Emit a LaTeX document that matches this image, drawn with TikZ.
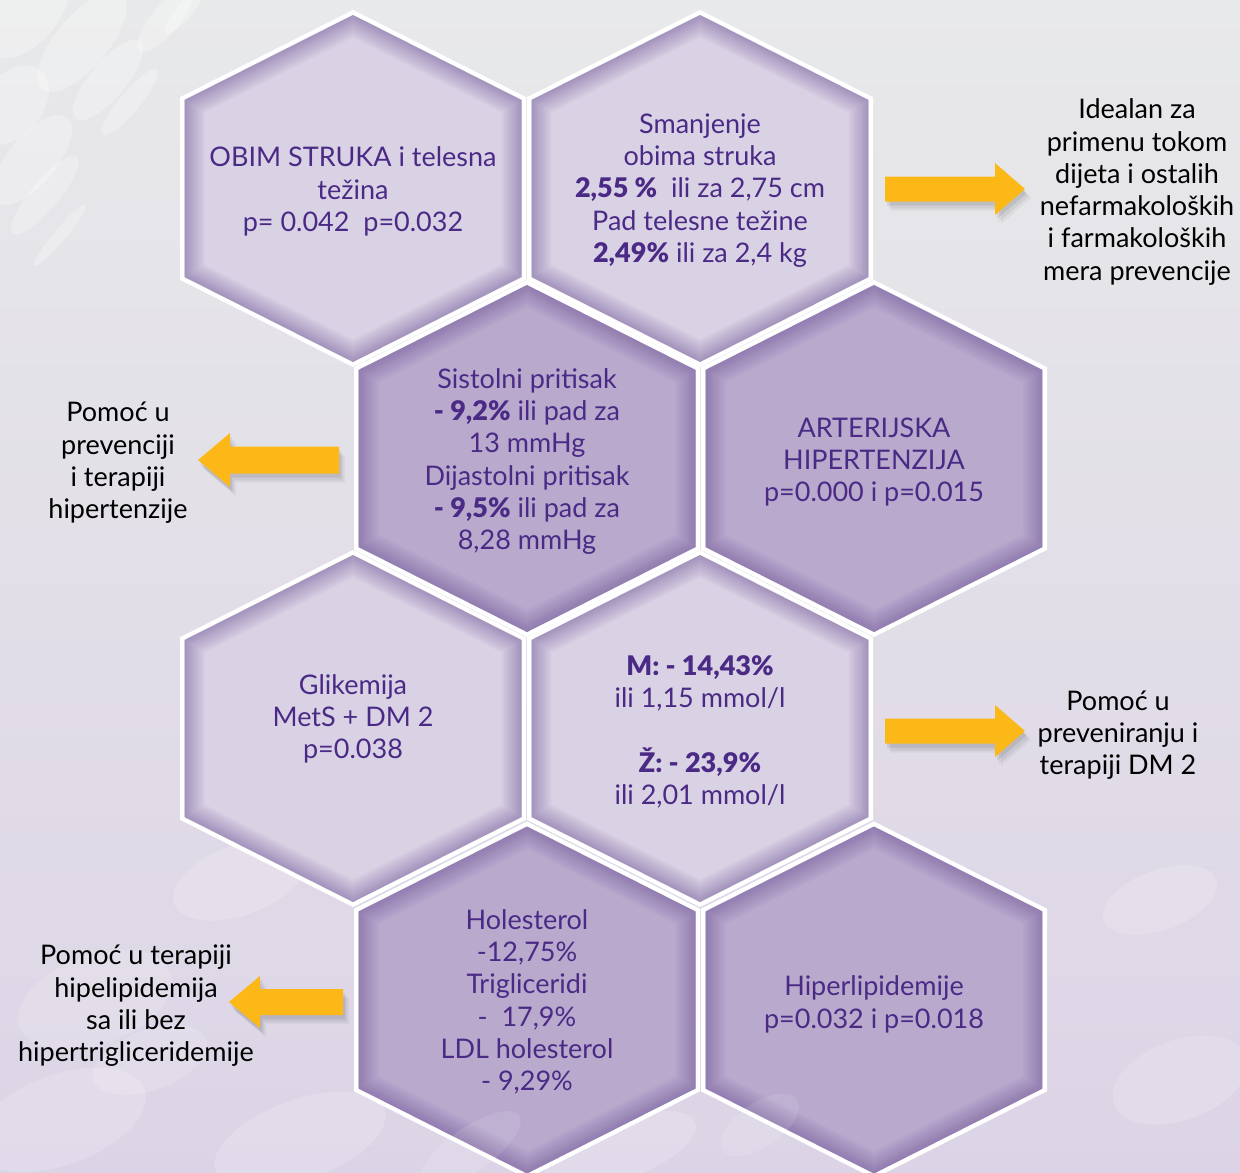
\documentclass[tikz,border=0pt]{standalone}
\usepackage{fontspec}
\IfFontExistsTF{Lato Black}{\setmainfont{Lato}[BoldFont={Lato Black}]}{\setmainfont{Lato}}
\usetikzlibrary{calc}
\definecolor{bgtop}{HTML}{E8E9EA}
\definecolor{bgmid}{HTML}{F1F1F2}
\definecolor{bgbot}{HTML}{DCD4E6}
\definecolor{hexlight}{HTML}{D9D2E5}
\definecolor{hexmed}{HTML}{B8A9CD}
\definecolor{hexedge}{HTML}{6E5396}
\definecolor{txtpurple}{HTML}{4B2A86}
\definecolor{arrowyellow}{HTML}{FBB817}
\newcommand{\hexpathat}[2]{(#1,#2) ++(0,-173.5) -- ++(168.5,85) -- ++(0,177) -- ++(-168.5,85) -- ++(-168.5,-85) -- ++(0,-177) -- cycle}
\newcommand{\hexcell}[3]{%
  \path[draw=white, line width=9pt, line join=miter] \hexpathat{#1}{#2};
  \begin{scope}
    \clip \hexpathat{#1}{#2};
    \fill[#3] \hexpathat{#1}{#2};
    \foreach \lw in {40,36,32,28,24,20,16,13,10,7,4}
      \draw[hexedge, opacity=0.05, line width=\lw pt] \hexpathat{#1}{#2};
  \end{scope}}
\tikzset{
  hextext/.style={text=txtpurple, align=center, inner sep=0pt, font=\fontsize{27}{32.3}\selectfont},
  sidetext/.style={text=black, align=center, inner sep=0pt, font=\fontsize{27}{32.3}\selectfont},
  blockarrow/.style={fill=arrowyellow},
  deco/.style={fill=white, opacity=0.28},
  decolow/.style={fill=white, opacity=0.16}
}
\begin{document}
\begin{tikzpicture}[x=1pt,y=-1pt]
\useasboundingbox (0,0) rectangle (1240,1173);
% background
\shade[top color=bgtop, middle color=bgmid, bottom color=bgbot] (0,0) rectangle (1240,1173);
% decorative ellipses, top left
\foreach \ex/\ey/\ea/\eb in {28/12/55/30, 82/42/62/26, 108/80/50/18, 130/102/42/10, 12/105/45/30, 32/160/55/24, 45/195/50/14, 60/235/40/6, 165/20/40/14, 185/10/30/8}
  \fill[deco, rotate around={50:(\ex,\ey)}] (\ex,\ey) ellipse [x radius=\ea, y radius=\eb];
% decorative ellipses, bottom
\foreach \ex/\ey/\ea/\eb in {95/1000/80/45, 240/880/70/35, 60/1120/90/45, 300/1140/90/40, 150/1060/60/30, 1180/1080/70/40, 1160/900/60/30, 620/1150/80/30}
  \fill[decolow, rotate around={20:(\ex,\ey)}] (\ex,\ey) ellipse [x radius=\ea, y radius=\eb];
% hexagons
\hexcell{353}{188.5}{hexlight}
\hexcell{700}{188.5}{hexlight}
\hexcell{527}{458.5}{hexmed}
\hexcell{874}{458.5}{hexmed}
\hexcell{353}{728.5}{hexlight}
\hexcell{700}{728.5}{hexlight}
\hexcell{527}{1000}{hexmed}
\hexcell{874}{1000}{hexmed}
% faint pattern over the lower hexagons
\foreach \ex/\ey/\ea/\eb in {760/1125/45/22, 470/1150/60/22}
  \fill[fill=white, opacity=0.10, rotate around={35:(\ex,\ey)}] (\ex,\ey) ellipse [x radius=\ea, y radius=\eb];
% hexagon texts
\node[hextext] (obim) at (353,191.5) {OBIM STRUKA i telesna\\težina\\p= 0.042\ \ p=0.032};
\node[hextext] (smanjenje) at (700,190.5) {Smanjenje\\obima struka\\\textbf{2,55 \%}\ \ ili za 2,75 cm\\Pad telesne težine\\\textbf{2,49\%} ili za 2,4 kg};
\node[hextext] (pritisak) at (527,461.5) {Sistolni pritisak\\\textbf{- 9,2\%} ili pad za\\13 mmHg\\Dijastolni pritisak\\\textbf{- 9,5\%} ili pad za\\8,28 mmHg};
\node[hextext] (arterijska) at (874,462) {ARTERIJSKA\\HIPERTENZIJA\\p=0.000 i p=0.015};
\node[hextext] (glikemija) at (353,719) {Glikemija\\MetS + DM 2\\p=0.038};
\node[hextext] (mz) at (700,732) {\textbf{M: - 14,43\%}\\ili 1,15 mmol/l\\[32.3pt]\textbf{Ž: - 23,9\%}\\ili 2,01 mmol/l};
\node[hextext] (holesterol) at (527,1002) {Holesterol\\-12,75\%\\Trigliceridi\\-\ \ 17,9\%\\LDL holesterol\\- 9,29\%};
\node[hextext] (hiperlip) at (874,1004.5) {Hiperlipidemije\\p=0.032 i p=0.018};
% side texts
\node[sidetext] (idealan) at (1137,192) {Idealan za\\primenu tokom\\dijeta i ostalih\\nefarmakoloških\\i farmakoloških\\mera prevencije};
\node[sidetext] (pomochip) at (118,463) {Pomoć u\\prevenciji\\i terapiji\\hipertenzije};
\node[sidetext] (pomocdm) at (1118,735) {Pomoć u\\preveniranju i\\terapiji DM 2};
\node[sidetext] (pomoclip) at (136,1006) {Pomoć u terapiji\\hipelipidemija\\sa ili bez\\hipertrigliceridemije};
% arrow shadows
\foreach \dx/\dy/\op in {2/4/0.08, 4/7/0.06, 6/9/0.04} {
  \fill[fill=black, opacity=\op, shift={(\dx,\dy)}] (885,176.5) -- (995,176.5) -- (995,163) -- (1025,189) -- (995,215) -- (995,201.5) -- (885,201.5) -- cycle;
  \fill[fill=black, opacity=\op, shift={(\dx,\dy)}] (885,718.5) -- (995,718.5) -- (995,705) -- (1025,731) -- (995,757) -- (995,743.5) -- (885,743.5) -- cycle;
  \fill[fill=black, opacity=\op, shift={(\dx,\dy)}] (339,446.5) -- (230,446.5) -- (230,433) -- (198,460) -- (230,487) -- (230,473.5) -- (339,473.5) -- cycle;
  \fill[fill=black, opacity=\op, shift={(\dx,\dy)}] (343,989) -- (260,989) -- (260,976) -- (229,1002) -- (260,1028) -- (260,1015) -- (343,1015) -- cycle;
}
% block arrows
\fill[blockarrow] (885,176.5) -- (995,176.5) -- (995,163) -- (1025,189) coordinate (tipA) -- (995,215) -- (995,201.5) -- (885,201.5) -- cycle;
\fill[blockarrow] (885,718.5) -- (995,718.5) -- (995,705) -- (1025,731) coordinate (tipB) -- (995,757) -- (995,743.5) -- (885,743.5) -- cycle;
\fill[blockarrow] (339,446.5) -- (230,446.5) -- (230,433) -- (198,460) coordinate (tipC) -- (230,487) -- (230,473.5) -- (339,473.5) -- cycle;
\fill[blockarrow] (343,989) -- (260,989) -- (260,976) -- (229,1002) coordinate (tipD) -- (260,1028) -- (260,1015) -- (343,1015) -- cycle;
\end{tikzpicture}
\end{document}
